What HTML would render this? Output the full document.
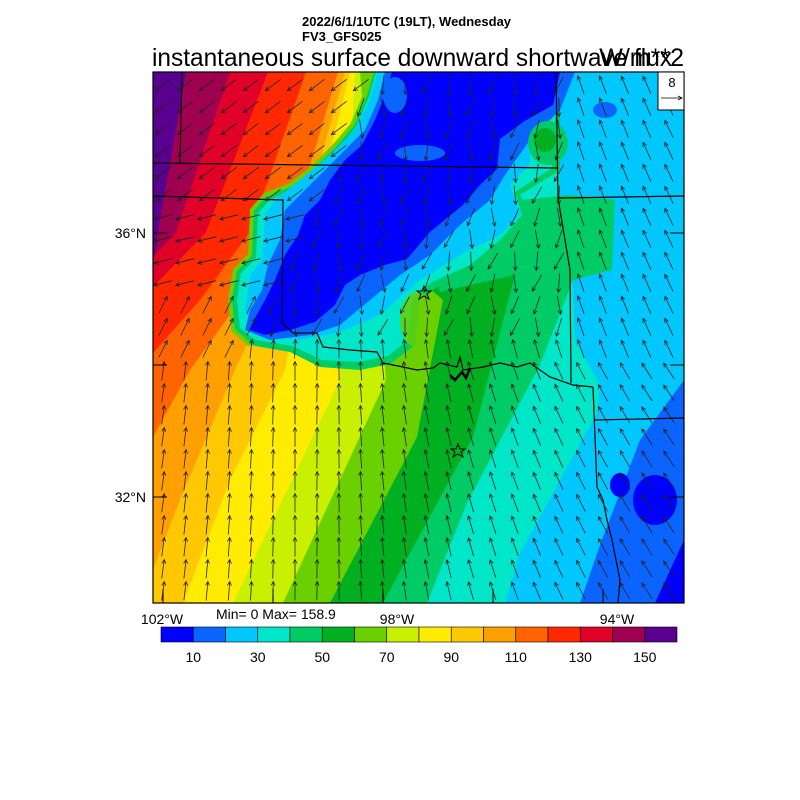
<!DOCTYPE html>
<html><head><meta charset="utf-8"><style>
html,body{margin:0;padding:0;background:#fff;}
svg{display:block;}
text{font-family:"Liberation Sans",sans-serif;}
</style></head><body>
<svg id="s" width="800" height="800" viewBox="0 0 800 800" xmlns="http://www.w3.org/2000/svg">
<defs><clipPath id="cp"><rect x="153" y="72" width="531" height="531"/></clipPath></defs>
<text x="302" y="26" font-size="13" font-weight="bold">2022/6/1/1UTC (19LT), Wednesday</text>
<text x="302" y="41" font-size="13" font-weight="bold">FV3_GFS025</text>
<text x="152" y="66" font-size="25" textLength="520" lengthAdjust="spacingAndGlyphs">instantaneous surface downward shortwave flux</text>
<text x="684" y="66" font-size="25" text-anchor="end">W/m**2</text>
<g clip-path="url(#cp)" id="field">
<rect x="153" y="72" width="531" height="531" fill="#0000ff"/>
<polygon fill="#0a64ff" points="-200,0 684,0 684,540 655,603 -200,603"/>
<polygon fill="#00c8ff" points="-200,0 684,0 684,380 640,440 600,545 580,603 -200,603"/>
<polygon fill="#00e6c8" points="-200,0 557,0 557,72 560,200 572,260 575,340 600,385 597,413 520,553 505,603 -200,603"/>
<polygon fill="#00cc66" points="-200,0 470,0 470,72 520,200 570,195 615,200 612,270 573,280 540,365 467,503 427,603 -200,603"/>
<polygon fill="#00b020" points="-200,0 420,0 430,250 440,292 470,285 515,275 473,437 383,603 -200,603"/>
<polygon fill="#6ad000" points="-200,0 400,0 420,280 443,300 417,437 330,603 -200,603"/>
<polygon fill="#c8f000" points="-200,0 365,0 360,72 386,380 283,603 -200,603"/>
<polygon fill="#ffec00" points="-200,0 360,0 355,72 340,380 233,603 -200,603"/>
<polygon fill="#ffc800" points="-200,0 350,0 350,72 310,232 285,370 230,480 183,603 -200,603"/>
<polygon fill="#ffa000" points="-200,0 345,0 345,72 300,232 235,370 180,500 140,603 -200,603"/>
<polygon fill="#ff6400" points="-200,0 338,0 338,72 290,232 190,370 153,437 110,603 -200,603"/>
<polygon fill="#ff2800" points="-200,0 306,0 306,72 250,232 200,300 153,353 100,420 -200,420"/>
<polygon fill="#e00028" points="-200,0 268,0 268,72 206,232 153,287 100,340 -200,340"/>
<polygon fill="#a00050" points="-200,0 230,0 230,72 176,232 153,257 100,320 -200,320"/>
<polygon fill="#5a0090" points="-200,0 186,0 186,72 158,232 100,603 -200,603"/>
<!-- cloud region -->
<polygon fill="#00cc66" points="372,72 365,95 352,125 335,145 310,170 290,185 265,195 252,210 250,255 235,270 230,300 233,330 250,345 290,352 320,367 360,370 390,364 415,345 420,300 440,285 470,270 500,245 530,215 520,195 560,170 560,72"/>
<polyline fill="none" stroke="#6ad000" stroke-width="4" points="372,72 365,95 352,125 335,145 310,170 290,185 265,195 252,210 250,255 235,270 230,300 233,330 250,345"/>
<polygon fill="#00e6c8" points="376,72 369,97 356,127 338,150 313,173 293,190 270,200 258,213 256,258 241,273 237,300 240,328 256,340 292,346 322,360 358,362 388,356 408,340 412,298 432,282 470,265 500,240 522,215 515,192 552,168 558,72"/>
<polygon fill="#00c8ff" points="378,72 370,100 355,130 330,155 300,180 275,200 265,215 262,260 250,275 245,310 255,335 300,340 340,332 380,315 420,280 460,255 500,235 520,215 510,185 530,165 530,120 560,100 560,72"/>
<polygon fill="#0a64ff" points="385,72 378,100 365,130 345,150 320,175 300,195 285,210 280,240 268,265 262,290 250,310 245,330 270,340 310,335 340,325 370,300 400,275 430,255 460,225 490,200 505,175 530,140 560,110 575,72"/>
<polygon fill="#0000ff" points="392,72 385,95 375,120 362,145 345,160 330,180 320,200 305,215 298,235 285,255 275,280 265,300 255,318 250,330 265,335 290,330 315,322 335,305 345,285 360,275 385,265 407,259 430,232 463,205 480,185 497,169 500,139 523,122 553,105 560,72"/>
<ellipse cx="420" cy="153" rx="25" ry="8" fill="#0a64ff"/>
<ellipse cx="395" cy="95" rx="12" ry="18" fill="#0a64ff"/>
<ellipse cx="548" cy="143" rx="20" ry="22" fill="#00cc66"/>
<ellipse cx="545" cy="140" rx="11" ry="12" fill="#00b020"/>
<ellipse cx="418" cy="320" rx="18" ry="28" fill="#6ad000" opacity="0.8"/>
<ellipse cx="655" cy="500" rx="22" ry="25" fill="#0000ff"/>
<ellipse cx="620" cy="485" rx="10" ry="12" fill="#0000ff"/>
<ellipse cx="605" cy="110" rx="12" ry="8" fill="#0a64ff"/>
<!-- borders -->
<g fill="none" stroke="#000" stroke-width="1.2">
<polyline points="153,163 557,168"/>
<polyline points="182,73 180,163"/>
<polyline points="153,196 283,200 282,323"/>
<polyline points="556,72 558,198 570,270 571,383"/>
<polyline points="558,198 684,196"/>
<polyline points="282,323 293,333 317,333 323,347 350,350 377,352 383,363 403,367 417,370 433,368 440,363 457,367 460,357 463,370 483,367 500,363 517,367 530,363 550,377 573,385 593,387"/>
<polyline points="593,387 597,487 603,500 607,520 612,540 616,560 620,580 618,603"/>
<polyline points="595,420 684,418"/>
</g>
<polyline fill="none" stroke="#000" stroke-width="2.5" points="450,375 455,380 462,372 466,378 470,368"/>
<g id="arrows" stroke="#222" stroke-width="0.8" fill="none"></g>
</g>
<g fill="none" stroke="#000" stroke-width="1">
<polygon points="424,286 426,291 431,291 427,294 429,299 424,296 419,299 421,294 417,291 422,291"/>
<polygon points="458,444 460,449 465,449 461,452 463,457 458,454 453,457 455,452 451,449 456,449"/>
</g>
<rect x="153" y="72" width="531" height="531" fill="none" stroke="#000" stroke-width="1.2"/>
<g stroke="#000" stroke-width="1">
<line x1="153" y1="233" x2="167" y2="233"/><line x1="153" y1="365" x2="167" y2="365"/><line x1="153" y1="497" x2="167" y2="497"/>
<line x1="684" y1="233" x2="670" y2="233"/><line x1="684" y1="365" x2="670" y2="365"/><line x1="684" y1="497" x2="670" y2="497"/>
<line x1="163" y1="603" x2="163" y2="589"/><line x1="273" y1="603" x2="273" y2="589"/><line x1="383" y1="603" x2="383" y2="589"/><line x1="493" y1="603" x2="493" y2="589"/><line x1="603" y1="603" x2="603" y2="589"/>
</g>
<rect x="658" y="72" width="26" height="38" fill="#fff" stroke="#000" stroke-width="1"/>
<text x="672" y="87" font-size="13" text-anchor="middle">8</text>
<line x1="661" y1="98" x2="682" y2="98" stroke="#000" stroke-width="0.8"/>
<polyline points="678,96 682,98 678,100" fill="none" stroke="#000" stroke-width="0.8"/>
<text x="146" y="238" font-size="14" text-anchor="end">36°N</text>
<text x="146" y="502" font-size="14" text-anchor="end">32°N</text>
<text x="162" y="624" font-size="14" text-anchor="middle">102°W</text>
<text x="397" y="624" font-size="14" text-anchor="middle">98°W</text>
<text x="617" y="624" font-size="14" text-anchor="middle">94°W</text>
<text x="216" y="619" font-size="14">Min= 0 Max= 158.9</text>
<g id="cb" stroke="#000" stroke-width="0.6"></g>
<g id="cbl" font-size="14" text-anchor="middle"></g>
</svg>
<script>
var NS="http://www.w3.org/2000/svg";
var cols=["#0000ff","#0a64ff","#00c8ff","#00e6c8","#00cc66","#00b020","#6ad000","#c8f000","#ffec00","#ffc800","#ffa000","#ff6400","#ff2800","#e00028","#a00050","#5a0090"];
var cb=document.getElementById("cb"),cbl=document.getElementById("cbl");
var w=516/16;
for(var i=0;i<16;i++){var r=document.createElementNS(NS,"rect");r.setAttribute("x",161+i*w);r.setAttribute("y",627);r.setAttribute("width",w);r.setAttribute("height",15);r.setAttribute("fill",cols[i]);cb.appendChild(r);}
for(var i=1;i<16;i+=2){var t=document.createElementNS(NS,"text");t.setAttribute("x",161+i*w);t.setAttribute("y",662);t.textContent=String(i*10);cbl.appendChild(t);}
var ar=document.getElementById("arrows");
function dir(x,y){
 var cl=375-(y-72)*0.45;
 if(y<350 && x<cl){ if(y<200) return [-0.8,0.6]; if(y<300) return [-1,0.25]; return [0.5,-1];}
 if(y<340 && x<560 && x>=cl){ return [-0.2+0.4*Math.sin(x*0.1+y*0.07),1];}
 if(y>=350 && x<300){ return [0.15*(x-300)/150*-1+0.0, -1];}
 var u=-(x-330)/500; if(y<350) u=u*0.7; return [u,-1];
}
for(var y=85;y<600;y+=22){for(var x=163;x<684;x+=22){
 var d=dir(x,y),n=Math.hypot(d[0],d[1]),dx=d[0]/n,dy=d[1]/n,L=19;
 var x0=x-dx*L/2,y0=y-dy*L/2,x1=x+dx*L/2,y1=y+dy*L/2;
 var p=document.createElementNS(NS,"path");
 var hx=-dx*4,hy=-dy*4,px=-dy*2,py=dx*2;
 p.setAttribute("d","M"+x0.toFixed(1)+","+y0.toFixed(1)+"L"+x1.toFixed(1)+","+y1.toFixed(1)+"M"+(x1+hx+px).toFixed(1)+","+(y1+hy+py).toFixed(1)+"L"+x1.toFixed(1)+","+y1.toFixed(1)+"L"+(x1+hx-px).toFixed(1)+","+(y1+hy-py).toFixed(1));
 ar.appendChild(p);}}
</script>
</body></html>
